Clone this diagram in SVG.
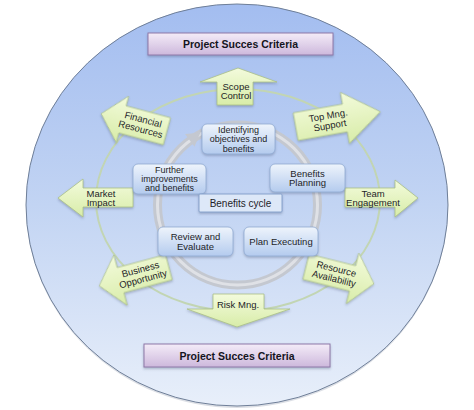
<svg xmlns="http://www.w3.org/2000/svg" width="474" height="410" viewBox="0 0 474 410">
<defs>
<linearGradient id="gBg" x1="0" y1="0" x2="0" y2="1">
<stop offset="0" stop-color="#a3bdf0"/>
<stop offset="0.5" stop-color="#c2d4f3"/>
<stop offset="1" stop-color="#e8effa"/>
</linearGradient>
<linearGradient id="gPurple" x1="0" y1="0" x2="0" y2="1">
<stop offset="0" stop-color="#f4ecf8"/>
<stop offset="1" stop-color="#cdb8dc"/>
</linearGradient>
<linearGradient id="gGreen" x1="0" y1="0" x2="0" y2="1">
<stop offset="0" stop-color="#f3fbdc"/>
<stop offset="1" stop-color="#d8eca8"/>
</linearGradient>
<linearGradient id="gBox" x1="0" y1="0" x2="0" y2="1">
<stop offset="0" stop-color="#eef4fc"/>
<stop offset="1" stop-color="#b4cbee"/>
</linearGradient>
<filter id="sh" x="-10%" y="-10%" width="120%" height="130%">
<feDropShadow dx="0" dy="1.5" stdDeviation="1.2" flood-color="#405070" flood-opacity="0.35"/>
</filter>
</defs>
<style>
.t{font-family:"Liberation Sans",Arial,sans-serif;font-size:9px;fill:#1e1e28;text-anchor:middle}
.ta{font-family:"Liberation Sans",Arial,sans-serif;font-size:9.5px;fill:#1e1e28;text-anchor:middle}
.tb{font-family:"Liberation Sans",Arial,sans-serif;font-size:10.5px;font-weight:bold;fill:#141420;text-anchor:middle}
.arr{fill:url(#gGreen);stroke:#a9bf86;stroke-width:0.8;filter:url(#sh)}
.box{fill:url(#gBox);stroke:#8fa9d2;stroke-width:0.8;filter:url(#sh)}
.pbox{fill:url(#gPurple);stroke:#8e78a8;stroke-width:1;filter:url(#sh)}
</style>
<rect width="474" height="410" fill="#ffffff"/>
<ellipse cx="237" cy="206" rx="211" ry="202" fill="#9aa4b4" opacity="0.35"/>
<ellipse cx="237" cy="205" rx="211" ry="201" fill="url(#gBg)" stroke="#6f7f98" stroke-width="1"/>

<g id="connectors">
<ellipse cx="238" cy="200" rx="142" ry="111" fill="none" stroke="#c2d5b3" stroke-width="2"/>
<circle cx="237.5" cy="205" r="80" fill="none" stroke="#c4c8d0" stroke-width="9"/>
<circle cx="237.5" cy="205" r="80" fill="none" stroke="#dfe1e6" stroke-width="3"/>
<polygon points="9,0 -4,-8 -4,8" fill="#c4c8d0" transform="translate(193,138) rotate(-36)"/>
</g>

<g id="top-criteria">
<rect class="pbox" x="148" y="33" width="185" height="22"/>
<text class="tb" x="240.5" y="47.5">Project Succes Criteria</text>
</g>
<g id="bottom-criteria">
<rect class="pbox" x="144" y="344" width="186" height="23"/>
<text class="tb" x="237" y="359.5">Project Succes Criteria</text>
</g>

<g id="scope-control">
<polygon class="arr" points="238,68 277,82 253,82 253,105 217,105 217,82 200,82"/>
<text class="ta" x="236" y="89.5">Scope</text>
<text class="ta" x="236" y="99">Control</text>
</g>
<g id="financial-resources" transform="translate(136,123) rotate(15)">
<polygon class="arr" points="-36,0 -14,-24 -14,-14 32,-14 32,14 -14,14 -14,24"/>
<text class="ta" x="6" y="-2">Financial</text>
<text class="ta" x="6" y="8">Resources</text>
</g>
<g id="top-mng-support" transform="translate(339,119) rotate(-10)">
<polygon class="arr" points="42,0 6,-26 6,-14 -44,-14 -44,14 6,14 6,26"/>
<text class="ta" x="-10" y="-2">Top Mng.</text>
<text class="ta" x="-10" y="8">Support</text>
</g>
<g id="market-impact">
<polygon class="arr" points="58,198 83,179 83,188 133,188 133,207 83,207 83,217"/>
<text class="ta" x="101" y="196.5">Market</text>
<text class="ta" x="101" y="206">Impact</text>
</g>
<g id="team-engagement">
<polygon class="arr" points="345,188 395,188 395,180 418,198 395,217 395,207 345,207"/>
<text class="ta" x="373" y="196.5">Team</text>
<text class="ta" x="373" y="206">Engagement</text>
</g>
<g id="business-opportunity" transform="translate(136,276) rotate(-15)">
<polygon class="arr" points="-38,0 -16,-26 -16,-13 34,-13 34,13 -16,13 -16,26"/>
<text class="ta" x="6" y="-2">Business</text>
<text class="ta" x="6" y="8">Opportunity</text>
</g>
<g id="resource-availability" transform="translate(339,275) rotate(14)">
<polygon class="arr" points="36,0 14,-26 14,-13 -34,-13 -34,13 14,13 14,26"/>
<text class="ta" x="-4" y="-2">Resource</text>
<text class="ta" x="-4" y="8">Availability</text>
</g>
<g id="risk-mng">
<polygon class="arr" points="213,294 264,294 264,309 290,309 237,327 187,309 213,309"/>
<text class="ta" x="238" y="308">Risk Mng.</text>
</g>

<g id="identifying">
<rect class="box" x="202" y="124" width="73" height="30" rx="5"/>
<text class="t" x="238.5" y="133">Identifying</text>
<text class="t" x="238.5" y="142.3">objectives and</text>
<text class="t" x="238.5" y="151.6">benefits</text>
</g>
<g id="further">
<rect class="box" x="133" y="164" width="73" height="30" rx="5"/>
<text class="t" x="169.5" y="172.6">Further</text>
<text class="t" x="169.5" y="181.9">improvements</text>
<text class="t" x="169.5" y="191.2">and benefits</text>
</g>
<g id="benefits-planning">
<rect class="box" x="270" y="164" width="75" height="28" rx="5"/>
<text class="t" x="307.5" y="176.5" style="font-size:9.5px">Benefits</text>
<text class="t" x="307.5" y="186" style="font-size:9.5px">Planning</text>
</g>
<g id="benefits-cycle">
<rect x="199" y="194" width="83" height="18" rx="1" fill="#dde8f8" stroke="#7f9cc8" stroke-width="0.9" filter="url(#sh)"/>
<text class="t" x="240.5" y="206.5" style="font-size:10px">Benefits cycle</text>
</g>
<g id="review-evaluate">
<rect class="box" x="158" y="227" width="75" height="29" rx="5"/>
<text class="t" x="195.5" y="240" style="font-size:9.5px">Review and</text>
<text class="t" x="195.5" y="249.5" style="font-size:9.5px">Evaluate</text>
</g>
<g id="plan-executing">
<rect class="box" x="244" y="227" width="74" height="29" rx="5"/>
<text class="t" x="281" y="245" style="font-size:9.5px">Plan Executing</text>
</g>
</svg>
